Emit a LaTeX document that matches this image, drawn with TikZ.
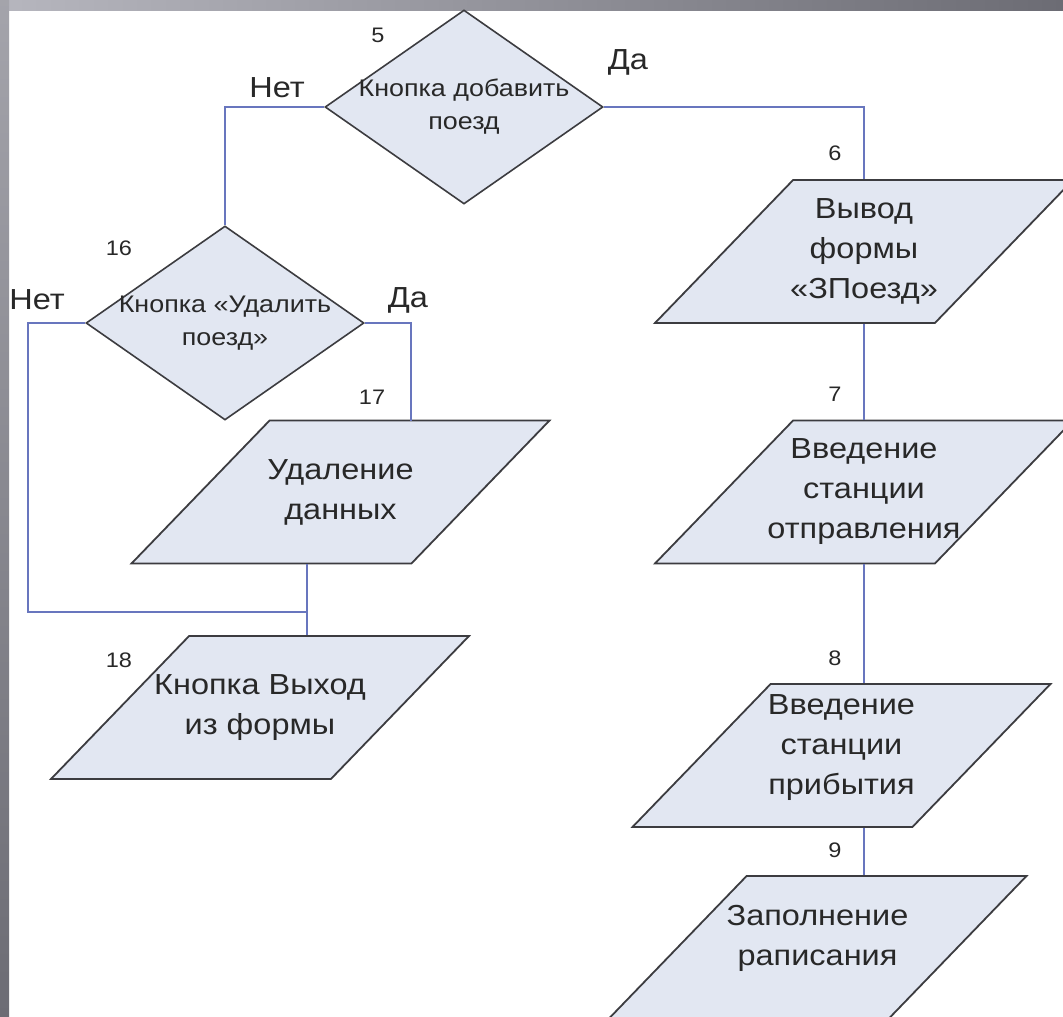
\documentclass[tikz,border=0pt]{standalone}
\usepackage{fontspec}
\setmainfont{Liberation Sans}[FakeStretch=1.12]
\usetikzlibrary{shapes.geometric,positioning}

\definecolor{boxfill}{RGB}{226,231,242}
\definecolor{outl}{RGB}{60,60,64}
\definecolor{lineblue}{RGB}{104,118,190}
\definecolor{txtc}{RGB}{40,40,40}
\definecolor{bandl}{RGB}{182,182,190}
\definecolor{bandr}{RGB}{108,108,116}

\begin{document}
\begin{tikzpicture}[
      x=1pt,y=-1pt,
      mydecision/.style={
         diamond,
         draw=outl,
         fill=boxfill,
         line width=1.6pt,
         inner sep=0pt,
         minimum width=278pt,
         minimum height=194pt},
      myio/.style={
         trapezium,
         trapezium left angle=46,
         trapezium right angle=134,
         trapezium stretches body,
         draw=outl,
         fill=boxfill,
         line width=1.8pt,
         inner sep=0pt,
         text height=143pt,
         text depth=0pt,
         minimum width=418pt},
      myiotext/.style={align=center,text=txtc,font=\fontsize{29}{40}\selectfont},
      mydtext/.style={align=center,text=txtc,font=\fontsize{24}{33}\selectfont},
      mynum/.style={text=txtc,font=\fontsize{21}{21}\selectfont},
      myans/.style={text=txtc,font=\fontsize{29}{29}\selectfont},
      myline/.style={draw=lineblue,line width=1.6pt}
      ]
      \useasboundingbox (0,0) rectangle (1063,1017);
      \clip (0,0) rectangle (1063,1017);
      \fill[white] (0,0) rectangle (1063,1017);
      \shade[left color=bandl,right color=bandr] (0,0) rectangle (1063,10);
      \shade[top color=bandl!90!black,bottom color=bandr] (0,0) rectangle (9,1017);

      % decisions
      \node[mydecision] (d5) at (464,107) {};
      \node[mydtext] (d5t) at (d5) {Кнопка добавить\\поезд};
      \node[mydecision] (d16) at (225,323) {};
      \node[mydtext] (d16t) at (d16) {Кнопка «Удалить\\поезд»};

      % input/output blocks
      \node[myio] (p6) at (864,251.5) {};
      \node[myio] (p7) at (864,492) {};
      \node[myio] (p8) at (841.5,755.5) {};
      \node[myio] (p9) at (817.5,947.5) {};
      \node[myio] (p17) at (340.5,492) {};
      \node[myio] (p18) at (260,707.5) {};

      \node[myiotext] (p6t) at (p6) {Вывод\\формы\\«ЗПоезд»};
      \node[myiotext] (p7t) at (p7) {Введение\\станции\\отправления};
      \node[myiotext,yshift=8pt] (p8t) at (p8) {Введение\\станции\\прибытия};
      \node[myiotext,yshift=9pt] (p9t) at (p9) {Заполнение\\рaписания};
      \node[myiotext] (p17t) at (p17) {Удаление\\данных};
      \node[myiotext] (p18t) at (p18) {Кнопка Выход\\из формы};

      \coordinate (j17) at (411,421);
      \coordinate (j18) at (307,612);
      \coordinate (c16) at (28,612);

      % connectors
      \draw[myline] (d5.west) -| (d16.north);
      \draw[myline] (d5.east) -| (p6.north);
      \foreach \i/\j in {p6/p7,p7/p8,p8/p9}
        \draw[myline] (p6.south |- \i.south) -- (p6.south |- \j.north);
      \draw[myline] (d16.east) -| (j17);
      \draw[myline] (d16.west) -| (c16) -- (j18);
      \draw[myline] (j18 |- p17.south) -- (j18 |- p18.north);

      % block numbers
      \foreach \txt/\x/\y in {5/378/35,6/835/153,7/835/394,8/835/658,
                              9/835/850,16/119/248,17/372/397,18/119/660}
        \node[mynum] (n\txt) at (\x,\y) {\txt};

      % answers
      \node[myans] (yes5) at (628,62) {Да};
      \node[myans] (no5) at (277,88) {Нет};
      \node[myans] (yes16) at (408,300) {Да};
      \node[myans] (no16) at (37,300) {Нет};
\end{tikzpicture}
\end{document}
